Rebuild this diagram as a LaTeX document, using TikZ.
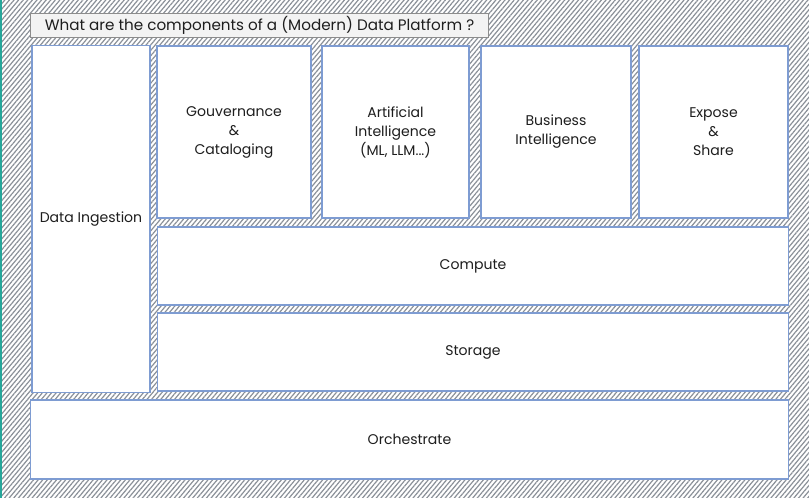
\documentclass[tikz,border=0pt]{standalone}
\usepackage{fontspec}
\setmainfont{Poppins}
\usepackage{xcolor}
\usepackage{tikz}
\usetikzlibrary{positioning, patterns.meta}
\definecolor{boxblue}{RGB}{126, 156, 210}
\definecolor{hatchgray}{RGB}{138, 144, 152}
\definecolor{edgeteal}{RGB}{38, 166, 154}
\definecolor{titlefill}{RGB}{243, 243, 243}
\definecolor{titledraw}{RGB}{140, 140, 140}
\definecolor{inkblack}{RGB}{30, 30, 30}
\tikzset{
    blockbox/.style={
        draw=boxblue, line width=0.8pt, fill=white, inner sep=0pt, outer sep=0pt,
        align=center, text=inkblack, font=\fontsize{10}{13.5}\selectfont
    },
    titlebox/.style={
        draw=titledraw, line width=0.7pt, fill=titlefill, inner sep=0pt, outer sep=0pt,
        text=inkblack, font=\fontsize{10.8}{12}\selectfont
    }
}
\begin{document}
\begin{tikzpicture}[x=0.025cm, y=-0.025cm]

        % ======================================
        % NỀN GẠCH CHÉO
        % ======================================
        \useasboundingbox (0,0) rectangle (809,498);
        \fill[white] (0,0) rectangle (809,498);
        \fill[pattern={Lines[angle=50, distance=2.5pt, line width=0.85pt]}, pattern color=hatchgray]
            (0,0) rectangle (809,498);
        \draw[edgeteal, line width=1.4pt] (0.7,0) -- (0.7,498);

        % ======================================
        % TIÊU ĐỀ
        % ======================================
        \node[titlebox, minimum width=11.425cm, minimum height=0.6cm] (title) at (259.5,25.5)
            {What are the components of a (Modern) Data Platform ?};

        % ======================================
        % CÁC KHỐI
        % ======================================
        \node[blockbox, minimum width=2.95cm, minimum height=8.675cm] (ingest) at (91,219) {Data Ingestion};

        \node[blockbox, minimum width=3.85cm, minimum height=4.3cm] (gouv) at (234,132) {Gouvernance\\\&\\Cataloging};
        \node[blockbox, minimum width=3.675cm, minimum height=4.3cm] (ai) at (395.5,132) {Artificial\\Intelligence\\(ML, LLM...)};
        \node[blockbox, minimum width=3.75cm, minimum height=4.3cm] (bi) at (556,132) {Business\\Intelligence};
        \node[blockbox, minimum width=3.725cm, minimum height=4.3cm] (expose) at (713.5,132) {Expose\\\&\\Share};

        \node[blockbox, minimum width=15.75cm, minimum height=1.95cm] (compute) at (473,266) {Compute};
        \node[blockbox, minimum width=15.75cm, minimum height=1.95cm] (storage) at (473,352) {Storage};

        \node[blockbox, minimum width=18.925cm, minimum height=1.975cm] (orch) at (409.5,439.5) {Orchestrate};

    \end{tikzpicture}
\end{document}
